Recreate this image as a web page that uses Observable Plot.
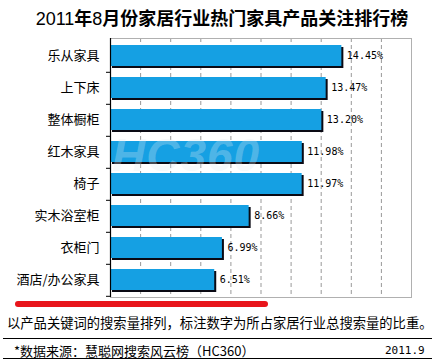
<!DOCTYPE html>
<html>
<head>
<meta charset="utf-8">
<script src="https://cdn.jsdelivr.net/npm/d3@7"></script>
<script src="https://cdn.jsdelivr.net/npm/@observablehq/plot@0.6"></script>
<style>
  body { margin: 0; background: #fff; }
  #wrap { position: relative; width: 432px; height: 360px; background: #fff; overflow: hidden; font-family: "Noto Sans CJK SC", sans-serif; }
  #title { height: 36px; line-height: 34px; text-align: center; padding-left: 12px; box-sizing: border-box; font-size: 18px; color: #000; white-space: nowrap; }
  #title b { font-weight: bold; }
  #title span { font-family: "Liberation Sans", sans-serif; font-weight: normal; font-size: 18px; }
  .abs { position: absolute; white-space: nowrap; }
</style>
</head>
<body>
<div id="wrap">
  <div id="title"><span>2011</span><b>年</b><span>8</span><b>月份家居行业热门家具产品关注排行榜</b></div>
  <div id="chart"></div>
  <div class="abs" style="left:112px;top:128px;font:italic bold 46px 'Liberation Sans',sans-serif;color:rgba(225,235,242,0.3);letter-spacing:1px;">HC360</div>
  <div class="abs" style="left:15px;top:301px;width:253px;height:6px;border-radius:3px;background:#e8151b;"></div>
  <div class="abs" style="left:7px;top:313px;font-size:13.3px;line-height:20px;color:#000;">以产品关键词的搜索量排列，标注数字为所占家居行业总搜索量的比重。</div>
  <div class="abs" style="left:3px;top:338px;width:429px;height:1px;background:#000;"></div>
  <div class="abs" style="left:14px;top:341px;font-size:13px;line-height:20px;color:#000;">*数据来源：慧聪网搜索风云榜（HC360）</div>
  <div class="abs" style="left:385px;top:341px;font-family:'DejaVu Sans Mono',monospace;font-size:11px;line-height:20px;color:#000;">2011.9</div>
  <div class="abs" style="left:3px;top:358px;width:429px;height:1px;background:#000;"></div>
</div>
<script>
const categories = ["乐从家具", "上下床", "整体橱柜", "红木家具", "椅子", "实木浴室柜", "衣柜门", "酒店/办公家具"];
const values = [14.45, 13.47, 13.20, 11.98, 11.97, 8.66, 6.99, 6.51];
const gridTicks = [0, 1.88, 3.76, 5.64, 7.52, 9.4, 11.28, 13.16, 15.04, 16.92, 18.8];

const data = categories.map((c, i) => ({category: c, value: values[i]}));

const chart = Plot.plot({
  width: 432,
  height: 263,
  marginTop: 2,
  marginBottom: 2,
  marginLeft: 110,
  marginRight: 21,
  style: {background: "transparent", fontFamily: "'Noto Sans CJK SC', sans-serif"},
  x: {domain: [0, 18.8], axis: null},
  y: {domain: categories, paddingInner: 0.35, paddingOuter: 0.175, label: null},
  marks: [
    Plot.gridX(gridTicks, {stroke: "#999", strokeOpacity: 1, strokeDasharray: "4,3"}),
    Plot.frame({stroke: "#b0b0b0"}),
    Plot.barX(data, {x: "value", y: "category", fill: "#0a0a14", dx: 2, dy: 2}),
    Plot.barX(data, {x: "value", y: "category", fill: "#15a0e3"}),
    Plot.text(data, {x: "value", y: "category", text: d => d.value.toFixed(2) + "%", dx: 5, textAnchor: "start", fontFamily: "'DejaVu Sans Mono', monospace", fontSize: 10, fill: "#000"}),
    Plot.axisY({tickSize: 4, dy: 16.3, text: null, stroke: "#000"}),
    Plot.axisY({tickSize: 0, tickPadding: 11, fontSize: 13, fill: "#000", label: null}),
    Plot.ruleX([0], {stroke: "#000", strokeWidth: 1.2})
  ]
});
document.getElementById("chart").appendChild(chart);
</script>
</body>
</html>
